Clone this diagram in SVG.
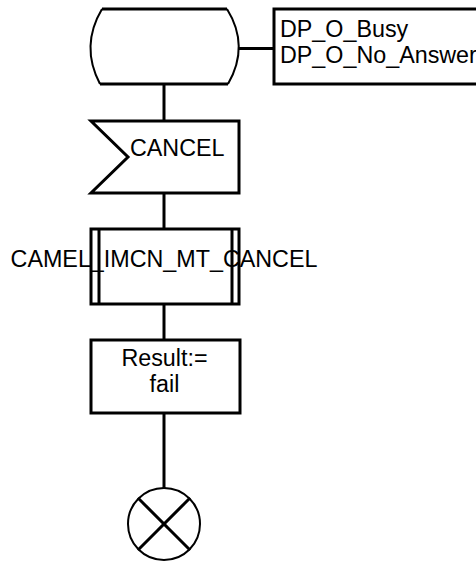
<svg xmlns="http://www.w3.org/2000/svg" width="476" height="562" viewBox="0 0 476 562">
<style>
.s{fill:none;stroke:#000;stroke-width:3}
.c{fill:none;stroke:#000;stroke-width:2}
.t{font-family:"Liberation Sans",Arial,sans-serif;font-size:23.3px;fill:#000}
.m{text-anchor:middle}
</style>
<rect width="476" height="562" fill="#fff"/>
<g id="connectors">
<line class="s" x1="239" y1="48.5" x2="274" y2="48.5"/>
<line class="s" x1="164" y1="84" x2="164" y2="121"/>
<line class="s" x1="164" y1="193" x2="164" y2="229"/>
<line class="s" x1="164" y1="304" x2="164" y2="340"/>
<line class="s" x1="164" y1="413" x2="164" y2="488"/>
</g>
<g id="state">
<line class="s" x1="102" y1="9" x2="227" y2="9"/>
<line class="s" x1="100" y1="84" x2="228" y2="84"/>
<path class="c" d="M102,9 Q80,46 100,84"/>
<path class="c" d="M227,9 Q250,46 228,84"/>
</g>
<g id="comment">
<rect class="s" x="274" y="9" width="210" height="75"/>
<text class="t" x="280" y="37">DP_O_Busy</text>
<text class="t" x="280" y="63">DP_O_No_Answer</text>
</g>
<g id="input">
<polygon class="s" points="91,121 239,121 239,193 91,193 128,157"/>
<text class="t" x="130" y="156">CANCEL</text>
</g>
<g id="procedure">
<rect class="s" x="91" y="229" width="148" height="75"/>
<line class="s" x1="99" y1="229" x2="99" y2="304"/>
<line class="s" x1="232" y1="229" x2="232" y2="304"/>
<text class="t m" x="164" y="267">CAMEL_IMCN_MT_CANCEL</text>
</g>
<g id="task">
<rect class="s" x="91" y="340" width="149" height="73"/>
<text class="t m" x="164.5" y="366">Result:=</text>
<text class="t m" x="164.5" y="392">fail</text>
</g>
<g id="stop">
<circle class="c" cx="164" cy="524" r="36"/>
<line class="s" x1="138" y1="498" x2="190" y2="550"/>
<line class="s" x1="190" y1="498" x2="138" y2="550"/>
</g>
</svg>
